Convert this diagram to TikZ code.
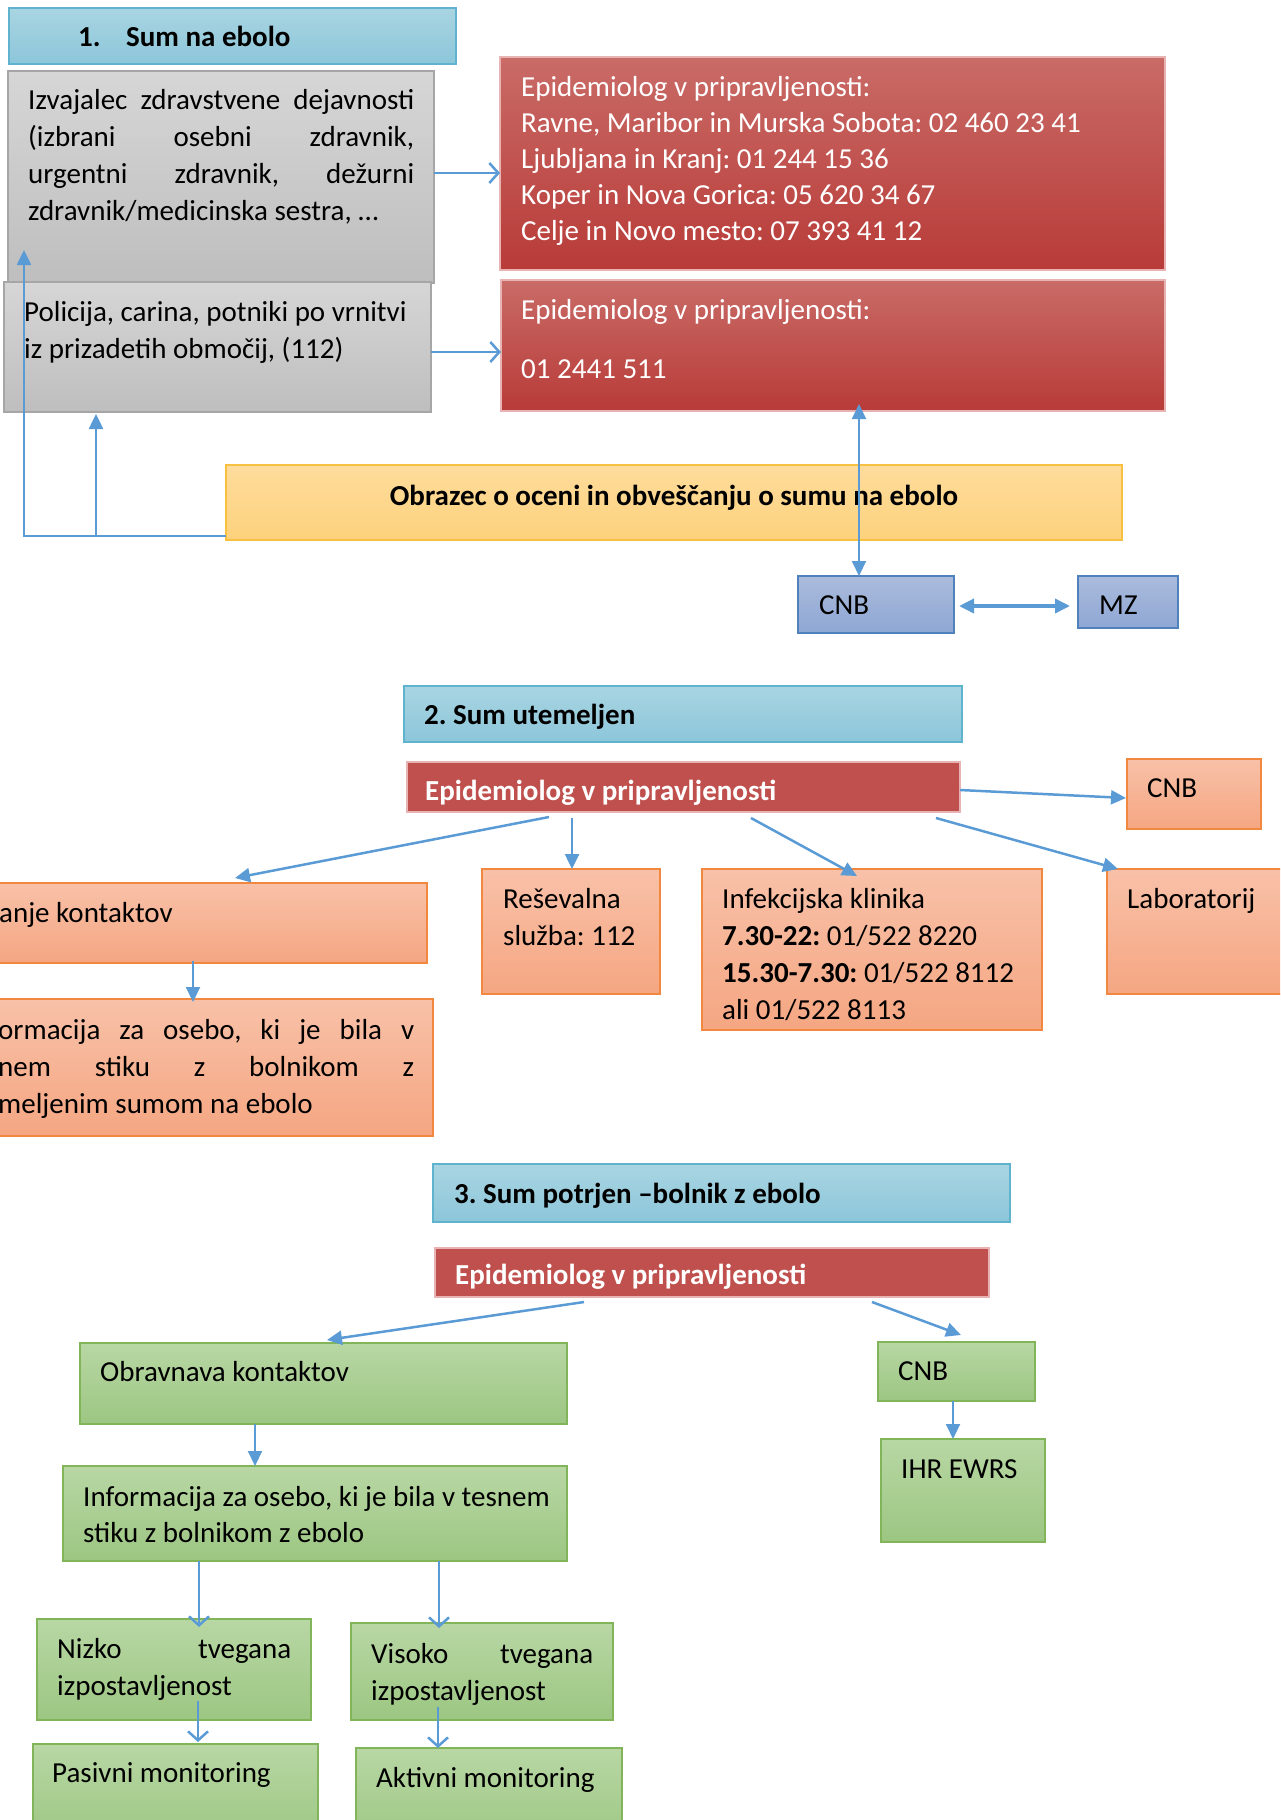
\documentclass[tikz,border=0pt]{standalone}
\usepackage{fontspec}
\setmainfont{Carlito}
\usetikzlibrary{arrows.meta,calc}

\definecolor{lineblue}{HTML}{5B9BD5}
\definecolor{titletop}{HTML}{A9D5E2}
\definecolor{titlebot}{HTML}{8CC6DA}
\definecolor{titleborder}{HTML}{5FB3CF}
\definecolor{graytop}{HTML}{D6D6D6}
\definecolor{graybot}{HTML}{BEBEBE}
\definecolor{grayborder}{HTML}{A6A6A6}
\definecolor{redtop}{HTML}{C96B67}
\definecolor{redbot}{HTML}{B83B38}
\definecolor{redborder}{HTML}{E8B4B3}
\definecolor{redsolid}{HTML}{C0504D}
\definecolor{yellowtop}{HTML}{FEDC9C}
\definecolor{yellowbot}{HTML}{FDD27D}
\definecolor{yellowborder}{HTML}{F8C040}
\definecolor{cnbtop}{HTML}{ABBBDC}
\definecolor{cnbbot}{HTML}{8EA7D4}
\definecolor{cnbborder}{HTML}{4F81BD}
\definecolor{salmontop}{HTML}{F8C1A8}
\definecolor{salmonbot}{HTML}{F5A682}
\definecolor{salmonborder}{HTML}{F2873F}
\definecolor{greentop}{HTML}{B8D7A4}
\definecolor{greenbot}{HTML}{9CC682}
\definecolor{greenborder}{HTML}{82B55A}

\newcommand{\spreadline}[2]{\makebox[#1][s]{#2}}
\frenchspacing

\tikzset{
  box/.style={anchor=north west, inner sep=0pt, outer sep=0pt, line width=1.5pt},
  titlebox/.style={box, top color=titletop, bottom color=titlebot, draw=titleborder},
  graybox/.style={box, top color=graytop, bottom color=graybot, draw=grayborder},
  redbox/.style={box, top color=redtop, bottom color=redbot, draw=redborder},
  redbar/.style={box, fill=redsolid, draw=redborder},
  yellowbox/.style={box, top color=yellowtop, bottom color=yellowbot, draw=yellowborder},
  cnbbox/.style={box, top color=cnbtop, bottom color=cnbbot, draw=cnbborder},
  salmonbox/.style={box, top color=salmontop, bottom color=salmonbot, draw=salmonborder},
  greenbox/.style={box, top color=greentop, bottom color=greenbot, draw=greenborder},
  txt/.style={inner sep=0pt, anchor=west, font=\fontsize{29pt}{37pt}\selectfont\frenchspacing, execute at begin node=\strut},
  btxt/.style={txt, font=\fontsize{29pt}{37pt}\selectfont\bfseries},
  mtxt/.style={txt, anchor=north west, align=left},
  conn/.style={draw=lineblue, line width=2.5pt},
  arr/.style={conn, -{Triangle[length=15pt,width=14pt]}},
  arrboth/.style={conn, {Triangle[length=15pt,width=14pt]}-{Triangle[length=15pt,width=14pt]}},
  arropen/.style={conn, -{Straight Barb[length=9pt,width=20pt,line width=2.5pt]}}
}

\begin{document}
\begin{tikzpicture}[x=1pt, y=-1pt]
\useasboundingbox (0,0) rectangle (1280,1820);
\clip (0,0) rectangle (1280,1820);

% 1. Sum na ebolo
\node[titlebox, minimum width=447pt, minimum height=56pt] (t1) at (9,8) {};
\node[graybox, minimum width=426pt, minimum height=212pt] (izv) at (8,71) {};
\node[graybox, minimum width=427pt, minimum height=130pt] (pol) at (4,282) {};
\node[redbox, minimum width=665pt, minimum height=213pt] (epi1a) at (500,57) {};
\node[redbox, minimum width=664pt, minimum height=131pt] (epi1b) at (501,280) {};
\node[yellowbox, minimum width=896pt, minimum height=75pt] (obr) at (226,465) {};
\node[cnbbox, minimum width=156pt, minimum height=57pt] (cnb1) at (798,576) {};
\node[cnbbox, minimum width=100pt, minimum height=52pt] (mz) at (1078,576) {};

\node[btxt] (t1-t) at (78,39) {\makebox[48pt][l]{1.}Sum na ebolo};
\node[mtxt] (izv-t) at (28,89.5) {\spreadline{386pt}{Izvajalec zdravstvene dejavnosti}\\
  \spreadline{386pt}{(izbrani osebni zdravnik,}\\
  \spreadline{386pt}{urgentni zdravnik, dežurni}\\
  zdravnik/medicinska sestra, …};
\node[mtxt] (pol-t) at (24,301) {Policija, carina, potniki po vrnitvi\\iz prizadetih območij, (112)};
\node[mtxt, text=white, font=\fontsize{29pt}{36pt}\selectfont\frenchspacing] (epi1a-t) at (521,76.5) {Epidemiolog v pripravljenosti:\\
  Ravne, Maribor in Murska Sobota: 02 460 23 41\\
  Ljubljana in Kranj: 01 244 15 36\\
  Koper in Nova Gorica: 05 620 34 67\\
  Celje in Novo mesto: 07 393 41 12};
\node[mtxt, text=white] (epi1b-t) at (521,299) {Epidemiolog v pripravljenosti:\\[22pt]01 2441 511};
\node[btxt, anchor=center] (obr-t) at (674,498) {Obrazec o oceni in obveščanju o sumu na ebolo};
\node[txt] (cnb1-t) at (819,607) {CNB};
\node[txt] (mz-t) at (1099,607) {MZ};

\draw[arropen] ($(izv.north east)+(0,102)$) -- ($(epi1a.north west)+(0,116)$);
\draw[arropen] ($(pol.north east)+(0,70)$) -- ($(epi1b.north west)+(0,72)$);
\coordinate (corner) at (24,536);
\draw[arr] ($(obr.south west)+(0,-4)$) -- (corner) -- ($(izv.north west)+(16,179)$);
\draw[arr] ($(obr.south west)+(-130,-4)$) -- ($(pol.south west)+(92,2)$);
\draw[arrboth, line width=2pt] ($(epi1b.south west)+(358,-7)$) -- ($(cnb1.north west)+(61,0)$);
\draw[arrboth, line width=3.5pt] ($(cnb1.north east)+(5,30)$) -- ($(mz.north west)+(-8,30)$);

% 2. Sum utemeljen
\node[titlebox, minimum width=558pt, minimum height=56pt] (t2) at (404,686) {};
\node[redbar, minimum width=553pt, minimum height=50pt] (epi2) at (407,762) {};
\node[salmonbox, minimum width=134pt, minimum height=70pt] (cnb2) at (1127,759) {};
\node[salmonbox, minimum width=447pt, minimum height=80pt] (kon2) at (-20,883) {};
\node[salmonbox, minimum width=453pt, minimum height=137pt] (inf2) at (-20,999) {};
\node[salmonbox, minimum width=178pt, minimum height=125pt] (res) at (482,869) {};
\node[salmonbox, minimum width=340pt, minimum height=161pt] (ikl) at (702,869) {};
\node[salmonbox, minimum width=200pt, minimum height=125pt] (lab) at (1107,869) {};

\node[btxt] (t2-t) at (424,717) {2. Sum utemeljen};
\node[btxt, text=white] (epi2-t) at (425,793) {Epidemiolog v pripravljenosti};
\node[txt] (cnb2-t) at (1147,790) {CNB};
\node[txt] (kon2-t) at (-1,915) {anje kontaktov};
\node[mtxt] (inf2-t) at (-2,1019.5) {\spreadline{416pt}{ormacija za osebo, ki je bila v}\\
  \spreadline{416pt}{nem stiku z bolnikom z}\\
  meljenim sumom na ebolo};
\node[mtxt] (res-t) at (503,888.5) {Reševalna\\služba: 112};
\node[mtxt] (ikl-t) at (722,888.5) {Infekcijska klinika\\
  \textbf{7.30-22:} 01/522 8220\\
  \textbf{15.30-7.30:} 01/522 8112\\
  ali 01/522 8113};
\node[txt] (lab-t) at (1127,901) {Laboratorij};

\draw[arr] ($(epi2.north east)+(0,28)$) -- ($(cnb2.north west)+(-1,39)$);
\draw[arr] ($(epi2.south west)+(142,5)$) -- ($(kon2.north west)+(255,-5)$);
\draw[arr] ($(epi2.south west)+(165,6)$) -- ($(res.north west)+(90,0)$);
\draw[arr] ($(epi2.south west)+(344,6)$) -- ($(ikl.north west)+(155,7)$);
\draw[arr] ($(epi2.south west)+(529,6)$) -- ($(lab.north west)+(11,0)$);
\draw[arr, line width=2pt] ($(kon2.south west)+(213,-2)$) -- ($(inf2.north west)+(213,3)$);

% 3. Sum potrjen
\node[titlebox, minimum width=577pt, minimum height=58pt] (t3) at (433,1164) {};
\node[redbar, minimum width=554pt, minimum height=49pt] (epi3) at (435,1248) {};
\node[greenbox, minimum width=487pt, minimum height=81pt] (obv) at (80,1343) {};
\node[greenbox, minimum width=504pt, minimum height=95pt] (inf3) at (63,1466) {};
\node[greenbox, minimum width=157pt, minimum height=59pt] (cnb3) at (878,1342) {};
\node[greenbox, minimum width=164pt, minimum height=103pt] (ihr) at (881,1439) {};
\node[greenbox, minimum width=274pt, minimum height=101pt] (niz) at (37,1619) {};
\node[greenbox, minimum width=262pt, minimum height=97pt] (vis) at (351,1623) {};
\node[greenbox, minimum width=285pt, minimum height=100pt] (pas) at (33,1744) {};
\node[greenbox, minimum width=266pt, minimum height=100pt] (akt) at (356,1748) {};

\node[btxt] (t3-t) at (454,1196) {3. Sum potrjen –bolnik z ebolo};
\node[btxt, text=white] (epi3-t) at (455,1277) {Epidemiolog v pripravljenosti};
\node[txt] (obv-t) at (100,1374) {Obravnava kontaktov};
\node[mtxt, font=\fontsize{29pt}{36pt}\selectfont\frenchspacing] (inf3-t) at (83,1486.5) {Informacija za osebo, ki je bila v tesnem\\stiku z bolnikom z ebolo};
\node[txt] (cnb3-t) at (898,1373) {CNB};
\node[txt] (ihr-t) at (901,1471) {IHR EWRS};
\node[mtxt] (niz-t) at (57,1638.5) {\spreadline{234pt}{Nizko tvegana}\\izpostavljenost};
\node[mtxt] (vis-t) at (371,1643.5) {\spreadline{222pt}{Visoko tvegana}\\izpostavljenost};
\node[txt] (pas-t) at (52,1775) {Pasivni monitoring};
\node[txt] (akt-t) at (376,1780) {Aktivni monitoring};

\draw[arr] ($(epi3.south west)+(149,5)$) -- ($(obv.north west)+(247,-3)$);
\draw[arr] ($(epi3.south west)+(437,5)$) -- ($(cnb3.north west)+(83,-7)$);
\draw[arr, line width=2pt] ($(obv.south west)+(175,0)$) -- ($(inf3.north west)+(192,0)$);
\draw[arr, line width=2pt] ($(cnb3.south west)+(75,0)$) -- ($(ihr.north west)+(72,0)$);
\draw[arropen, line width=2pt] ($(inf3.south west)+(136,0)$) -- ($(niz.north west)+(162,8)$);
\draw[arropen, line width=2pt] ($(inf3.south west)+(376,0)$) -- ($(vis.north west)+(88,5)$);
\draw[arropen, line width=2pt] ($(niz.south west)+(161,-19)$) -- ($(pas.north west)+(165,-2)$);
\draw[arropen, line width=2pt] ($(vis.south west)+(87,-13)$) -- ($(akt.north west)+(82,0)$);
\end{tikzpicture}
\end{document}
